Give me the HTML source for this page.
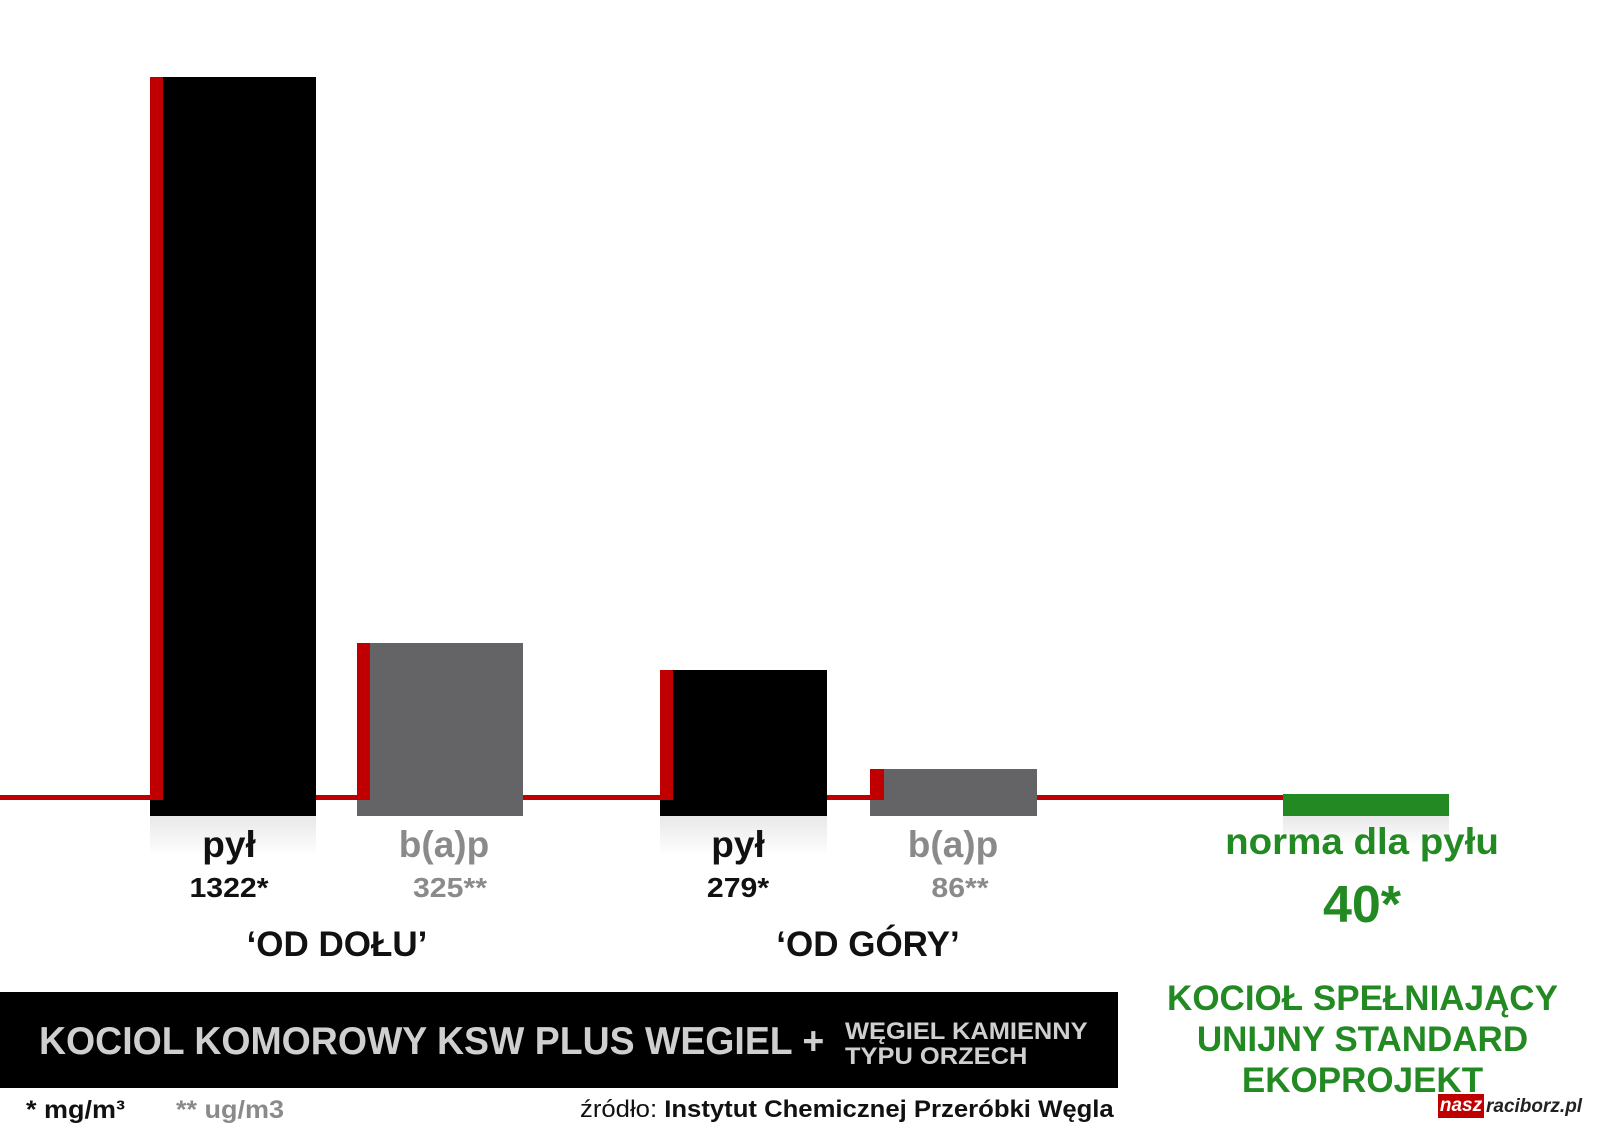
<!DOCTYPE html>
<html><head><meta charset="utf-8"><style>
body{margin:0;width:1600px;height:1132px;background:#fff;position:relative;overflow:hidden;font-family:"Liberation Sans",sans-serif;}
div{position:absolute;}
.t{font-weight:bold;text-align:center;white-space:nowrap;line-height:1;}
.sh{background:linear-gradient(#e8e8e8,#fff);}
</style></head><body>
<div style="left:0;top:795px;width:1283px;height:5px;background:#c00000"></div>
<div class="sh" style="left:150px;top:816px;width:166px;height:40px"></div>
<div class="sh" style="left:660px;top:816px;width:167px;height:40px"></div>
<div class="sh" style="left:1283px;top:816px;width:166px;height:30px"></div>
<div style="left:150px;top:77px;width:166px;height:739px;background:#000"></div>
<div style="left:150px;top:77px;width:13px;height:723px;background:#c00000"></div>
<div style="left:357px;top:643px;width:166px;height:173px;background:#646466"></div>
<div style="left:357px;top:643px;width:13px;height:157px;background:#c00000"></div>
<div style="left:660px;top:670px;width:167px;height:146px;background:#000"></div>
<div style="left:660px;top:670px;width:13px;height:130px;background:#c00000"></div>
<div style="left:870px;top:769px;width:167px;height:47px;background:#646466"></div>
<div style="left:870px;top:769px;width:14px;height:31px;background:#c00000"></div>
<div style="left:1283px;top:794px;width:166px;height:22px;background:#238a23"></div>
<div class="t" style="left:129px;width:200px;top:826px;font-size:37px;color:#111">pył</div>
<div class="t" style="left:344px;width:200px;top:826px;font-size:37px;color:#8a8a8a">b(a)p</div>
<div class="t" style="left:638px;width:200px;top:826px;font-size:37px;color:#111">pył</div>
<div class="t" style="left:853px;width:200px;top:826px;font-size:37px;color:#8a8a8a">b(a)p</div>
<div class="t" style="left:129px;width:200px;top:874px;font-size:28px;color:#111;transform:scaleX(1.08)">1322*</div>
<div class="t" style="left:350px;width:200px;top:874px;font-size:28px;color:#8a8a8a;transform:scaleX(1.08)">325**</div>
<div class="t" style="left:638px;width:200px;top:874px;font-size:28px;color:#111;transform:scaleX(1.08)">279*</div>
<div class="t" style="left:860px;width:200px;top:874px;font-size:28px;color:#8a8a8a;transform:scaleX(1.08)">86**</div>
<div class="t" style="left:187px;width:300px;top:927px;font-size:35px;color:#111;transform:scaleX(1.0)">‘OD DOŁU’</div>
<div class="t" style="left:718px;width:300px;top:927px;font-size:35px;color:#111;transform:scaleX(1.0)">‘OD GÓRY’</div>
<div class="t" style="left:1212px;width:300px;top:823px;font-size:37px;color:#238a23;transform:scaleX(1.04)">norma dla pyłu</div>
<div class="t" style="left:1212px;width:300px;top:879px;font-size:52px;color:#238a23">40*</div>
<div style="left:0;top:992px;width:1118px;height:96px;background:#000"></div>
<div class="t" style="left:39px;top:1022px;font-size:39px;color:#cfcfcf;text-align:left;transform-origin:0 0;transform:scaleX(.96)">KOCIOL KOMOROWY KSW PLUS WEGIEL +</div>
<div class="t" style="left:845px;top:1019px;font-size:24px;color:#cfcfcf;text-align:left;line-height:25px;transform-origin:0 0;transform:scaleX(1.06)">WĘGIEL KAMIENNY<br>TYPU ORZECH</div>
<div class="t" style="left:1150px;width:425px;top:978px;font-size:35px;color:#238a23;line-height:41px;transform:scaleX(1.0)">KOCIOŁ SPEŁNIAJĄCY<br>UNIJNY STANDARD<br>EKOPROJEKT</div>
<div class="t" style="left:26px;top:1098px;font-size:25px;color:#111;text-align:left;transform-origin:0 0;transform:scaleX(1.08)">* mg/m³</div>
<div class="t" style="left:176px;top:1098px;font-size:25px;color:#8a8a8a;text-align:left;transform-origin:0 0;transform:scaleX(1.08)">** ug/m3</div>
<div style="left:580px;top:1098px;font-size:24px;color:#111;white-space:nowrap;line-height:1;transform-origin:0 0;transform:scaleX(1.07)">źródło: <b>Instytut Chemicznej Przeróbki Węgla</b></div>
<div class="t" style="left:1438px;top:1094px;width:46px;height:24px;background:#c00000;color:#fff;font-size:19px;font-style:italic;line-height:24px">nasz</div>
<div class="t" style="left:1486px;top:1097px;font-size:19px;font-style:italic;color:#222;text-align:left">raciborz.pl</div>
</body></html>
